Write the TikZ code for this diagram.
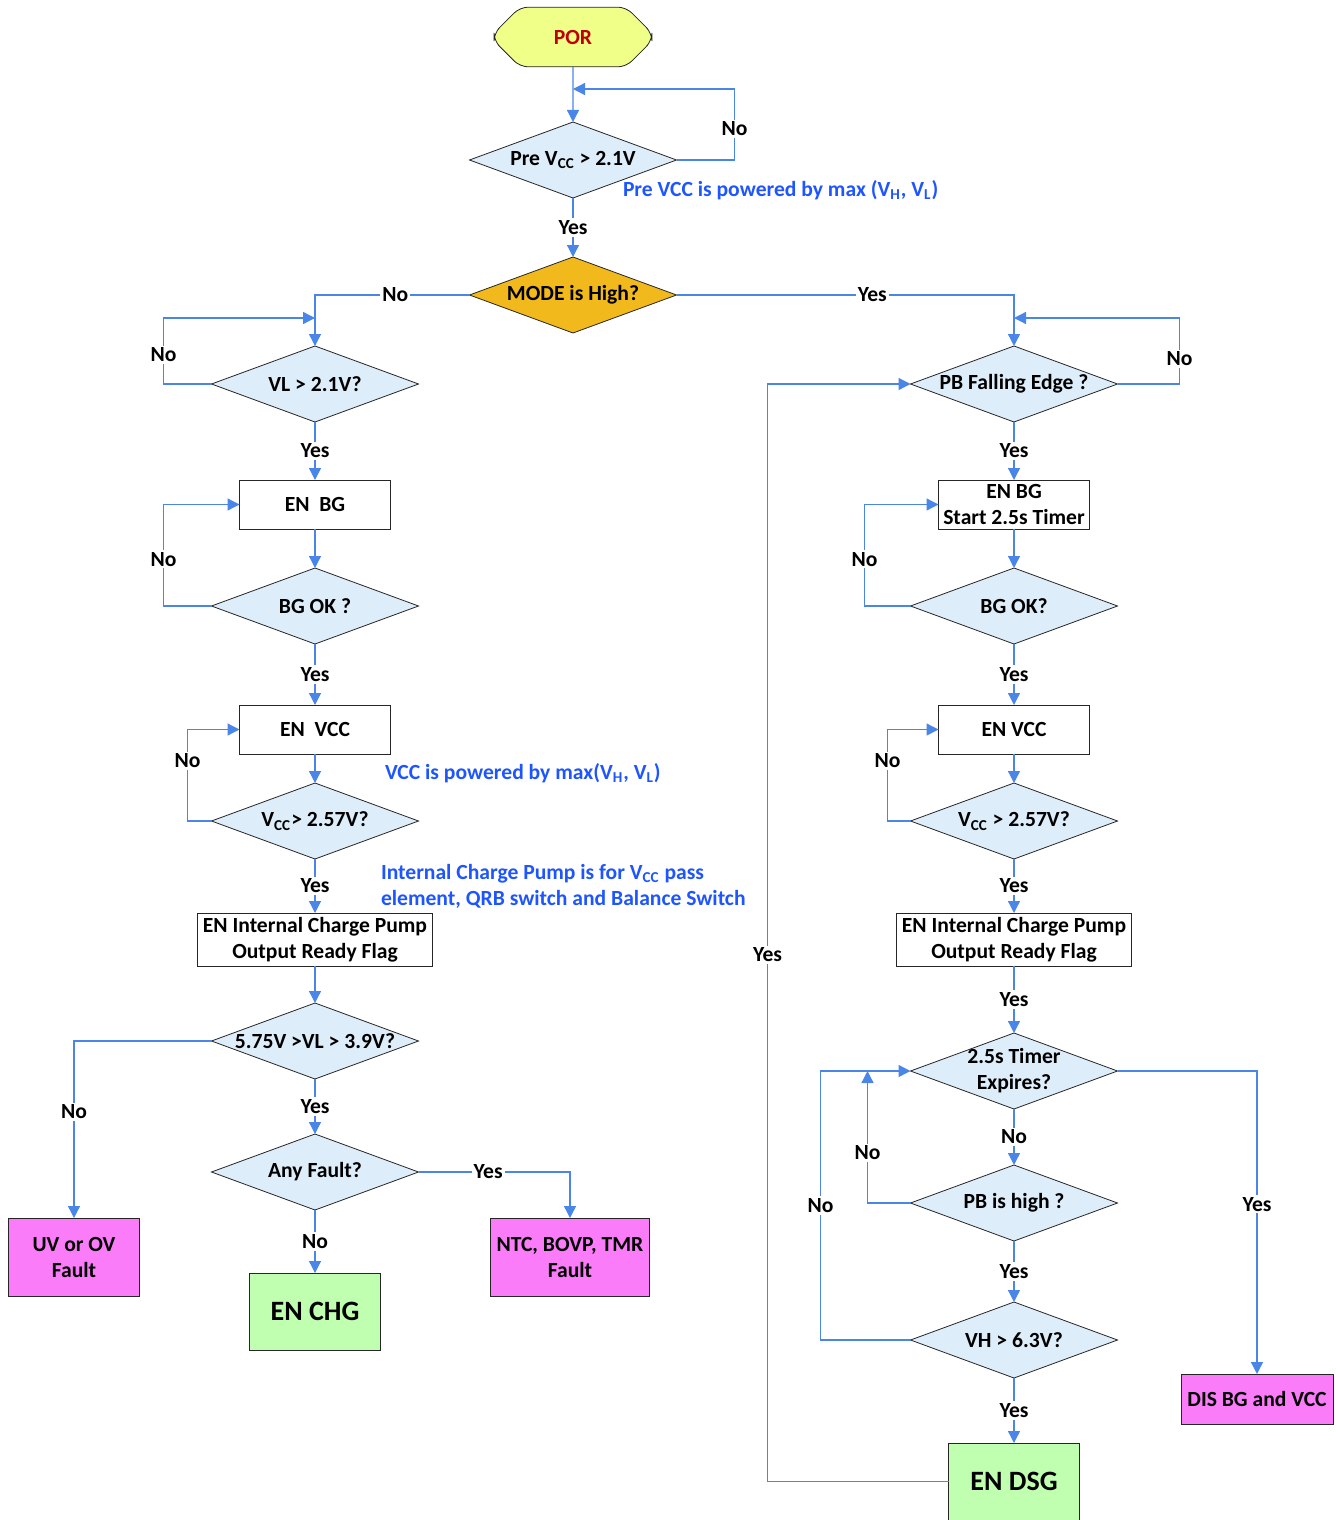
\documentclass[tikz,border=0pt]{standalone}
\usepackage{fontspec}
\setmainfont{Carlito}
\usetikzlibrary{shapes.geometric, shapes.misc, arrows.meta, positioning}

\definecolor{flowblue}{RGB}{74,134,232}
\definecolor{noteblue}{RGB}{30,85,255}
\definecolor{condfill}{RGB}{222,237,250}
\definecolor{modefill}{RGB}{242,185,28}
\definecolor{porfill}{RGB}{240,255,136}
\definecolor{porred}{RGB}{192,0,0}
\definecolor{faultfill}{RGB}{250,124,248}
\definecolor{donefill}{RGB}{192,255,176}

\newcommand{\cond}[1]{\makebox[0pt]{#1}}

\tikzset{
  base/.style     = {outer sep=0pt, font=\fontsize{10.8}{13}\selectfont\bfseries},
  start/.style    = {chamfered rectangle, chamfered rectangle xsep=5pt,
                     chamfered rectangle ysep=8pt, rounded corners=4pt,
                     draw=black!85, fill=porfill, text=porred,
                     minimum width=79pt, minimum height=24pt, base},
  decision/.style = {diamond, draw=black!85, fill=condfill, inner sep=0pt,
                     minimum width=103.5pt, minimum height=38pt, base},
  modecheck/.style= {decision, fill=modefill},
  proc/.style     = {rectangle, draw=black!85, fill=white, align=center,
                     inner sep=1pt, minimum width=75.5pt,
                     minimum height=24.5pt, base},
  pump/.style     = {proc, minimum width=117.5pt, minimum height=26.5pt},
  faultbox/.style = {proc, fill=faultfill, minimum width=65.5pt,
                     minimum height=39pt},
  done/.style     = {proc, fill=donefill, minimum width=65.5pt,
                     minimum height=38.5pt,
                     font=\fontsize{14}{16}\selectfont\bfseries},
  note/.style     = {anchor=west, inner sep=0pt, text=noteblue, base},
  lbl/.style      = {fill=white, inner sep=1pt, text=black, base},
  arr/.style      = {-{Triangle[length=6pt, width=6pt]}, draw=flowblue,
                     line width=0.65pt},
}

\begin{document}
\begin{tikzpicture}[x=0.5pt, y=-0.5pt]
\useasboundingbox (0,0) rectangle (1338,1520);

% ── Start ────────────────────────────────────────────────
\node[start] (por) at (573,37) {POR};
\node[decision] (pre) at (573,160) {\cond{Pre V\textsubscript{CC} > 2.1V}};
\node[modecheck, below=29.5pt of pre] (mode) {\cond{MODE is High?}};

% ── Charge path (MODE low) ───────────────────────────────
\node[decision] (vl) at (315,384) {\cond{VL > 2.1V?}};
\node[proc, below=29pt of vl] (enbg) {EN\ \ BG};
\node[decision, below=19.5pt of enbg] (bgok) {\cond{BG OK ?}};
\node[proc, below=30.5pt of bgok] (envcc) {EN\ \ VCC};
\node[decision, below=14.5pt of envcc] (vcc) {\cond{V\textsubscript{CC}> 2.57V?}};
\node[pump, below=27pt of vcc] (pump) {EN Internal Charge Pump\\Output Ready Flag};
\node[decision, below=18.5pt of pump] (range) {\cond{5.75V >VL > 3.9V?}};
\node[decision, below=27.5pt of range] (fault) {\cond{Any Fault?}};
\node[done, below=31.5pt of fault] (enchg) {EN CHG};
\node[faultbox] (uvov) at (74,1257) {UV or OV\\Fault};
\node[faultbox, minimum width=79.5pt] (ntc) at (570,1257) {NTC, BOVP, TMR\\Fault};

% ── Discharge path (MODE high) ───────────────────────────
\node[decision] (pbfall) at (1014,384) {\cond{PB Falling Edge ?}};
\node[proc, below=29pt of pbfall] (enbg2) {EN BG\\Start 2.5s Timer};
\node[decision, below=19.5pt of enbg2] (bgok2) {\cond{BG OK?}};
\node[proc, below=30.5pt of bgok2] (envcc2) {EN VCC};
\node[decision, below=14.5pt of envcc2] (vcc2) {\cond{V\textsubscript{CC} > 2.57V?}};
\node[pump, below=27pt of vcc2] (pump2) {EN Internal Charge Pump\\Output Ready Flag};
\node[decision, below=33.5pt of pump2] (timer)
      {\cond{\begin{tabular}{@{}c@{}}2.5s Timer\\Expires?\end{tabular}}};
\node[decision, below=28pt of timer] (pbhigh) {\cond{PB is high ?}};
\node[decision, below=30.5pt of pbhigh] (vh) {\cond{VH > 6.3V?}};
\node[done, below=32.5pt of vh] (endsg) {EN DSG};
\node[faultbox, minimum width=76pt, minimum height=25pt] (disbg) at (1257,1399)
      {DIS BG and VCC};

% ── Notes ────────────────────────────────────────────────
\node[note] (prenote) at (623,190)
      {Pre VCC is powered by max (V\textsubscript{H}, V\textsubscript{L})};
\node[note] (vccnote) at (385,773)
      {VCC is powered by max(V\textsubscript{H}, V\textsubscript{L})};
\node[note, align=left] (pumpnote) at (381,886)
      {Internal Charge Pump is for V\textsubscript{CC} pass\\element, QRB switch and Balance Switch};

% ── Loop joints ──────────────────────────────────────────
\coordinate (preloop) at (573,89);
\coordinate[above=14pt of vl] (vlloop);
\coordinate[above=14pt of pbfall] (pbloop);
\coordinate[left=21.5pt of timer] (tjoin);

% ── Arrows: top ──────────────────────────────────────────
\draw[arr] (por) -- (pre);
\draw[arr] (pre.east) -- ++(58,0) |- node[lbl, pos=0.22]{No} (preloop);
\draw[arr] (pre) -- node[lbl]{Yes} (mode);
\draw[arr] (mode.west) -| node[lbl, pos=0.24]{No} (vl.north);
\draw[arr] (mode.east) -| node[lbl, pos=0.29]{Yes} (pbfall.north);

% ── Arrows: charge path ──────────────────────────────────
\draw[arr] (vl.west) -- ++(-48,0) |- node[lbl, pos=0.22]{No} (vlloop);
\draw[arr] (vl) -- node[lbl]{Yes} (enbg);
\draw[arr] (enbg) -- (bgok);
\draw[arr] (bgok.west) -- ++(-48,0) |- node[lbl, pos=0.23]{No} (enbg.west);
\draw[arr] (bgok) -- node[lbl]{Yes} (envcc);
\draw[arr] (envcc) -- (vcc);
\draw[arr] (vcc.west) -- ++(-24,0) |- node[lbl, pos=0.33]{No} (envcc.west);
\draw[arr] (vcc) -- node[lbl]{Yes} (pump);
\draw[arr] (pump) -- (range);
\draw[arr] (range.west) -| node[lbl, pos=0.7]{No} (uvov.north);
\draw[arr] (range) -- node[lbl]{Yes} (fault);
\draw[arr] (fault.east) -| node[lbl, pos=0.23]{Yes} (ntc.north);
\draw[arr] (fault) -- node[lbl]{No} (enchg);

% ── Arrows: discharge path ───────────────────────────────
\draw[arr] (pbfall.east) -- ++(62,0) |- node[lbl, pos=0.19]{No} (pbloop);
\draw[arr] (pbfall) -- node[lbl]{Yes} (enbg2);
\draw[arr] (enbg2) -- (bgok2);
\draw[arr] (bgok2.west) -- ++(-46,0) |- node[lbl, pos=0.23]{No} (enbg2.west);
\draw[arr] (bgok2) -- node[lbl]{Yes} (envcc2);
\draw[arr] (envcc2) -- (vcc2);
\draw[arr] (vcc2.west) -- ++(-23,0) |- node[lbl, pos=0.33]{No} (envcc2.west);
\draw[arr] (vcc2) -- node[lbl]{Yes} (pump2);
\draw[arr] (pump2) -- node[lbl]{Yes} (timer);
\draw[arr] (timer) -- node[lbl]{No} (pbhigh);
\draw[arr] (timer.east) -| node[lbl, pos=0.72]{Yes} (disbg.north);
\draw[arr] (pbhigh.west) -| node[lbl, pos=0.69]{No} (tjoin);
\draw[arr] (pbhigh) -- node[lbl]{Yes} (vh);
\draw[arr] (vh.west) -- ++(-90,0) |- node[lbl, pos=0.25]{No} (timer.west);
\draw[arr] (vh) -- node[lbl]{Yes} (endsg);
\draw[arr] (endsg.west) -- ++(-181,0) |- node[lbl, pos=0.24]{Yes} (pbfall.west);

\end{tikzpicture}
\end{document}
